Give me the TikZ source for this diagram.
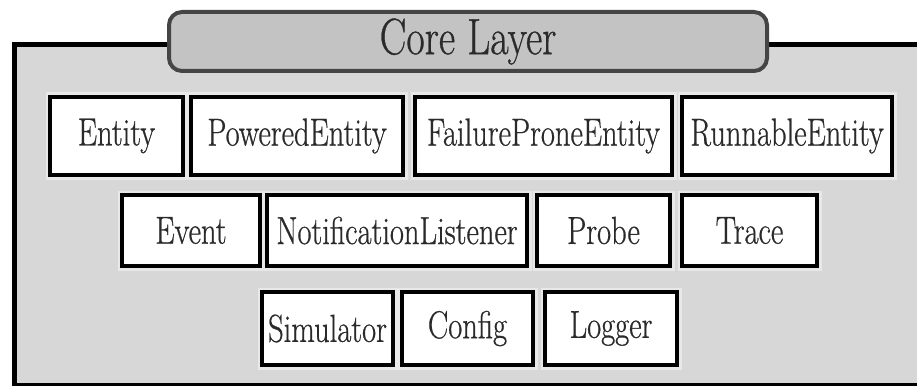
\documentclass[tikz,border=0pt]{standalone}
\usepackage{fontspec}
\newfontfamily\labelfont{Latin Modern Roman}[FakeBold=0.7]
\begin{document}
\begin{tikzpicture}[x=1pt,y=-1pt,
  panelline/.style={line width=5pt,draw=black},
  cbox/.style={rectangle,inner sep=0pt,fill=white,draw=black,line width=4.5pt,
    preaction={draw=boxhalo,line width=9pt},
    font=\labelfont\fontsize{30.5}{33}\selectfont,text=labelgray},
  titlebox/.style={rectangle,rounded corners=13pt,inner sep=0pt,fill=titlefill,
    draw=titleline,line width=4pt,font=\labelfont\fontsize{40}{43}\selectfont,text=labelgray}
]
\definecolor{panelfill}{HTML}{D7D7D7}
\definecolor{titlefill}{HTML}{C3C3C3}
\definecolor{titleline}{HTML}{454545}
\definecolor{boxhalo}{HTML}{E8E8E8}
\definecolor{labelgray}{HTML}{2A2A2A}
\newcommand{\tall}[1]{\scalebox{1}[1.28]{#1}}

\useasboundingbox (0,0) rectangle (917,385);
\clip (0,0) rectangle (917,385);
\fill[white] (0,0) rectangle (917,385);

% layer panel
\fill[panelfill] (14,45) rectangle (940,386);
\draw[panelline] (940,45) -- (14,45) -- (14,385.5) -- (940,385.5);

% layer title
\node[titlebox,minimum width=598pt,minimum height=59pt] (title) at (468,41.5) {\tall{Core Layer}};

% first row
\node[cbox,minimum width=133pt,minimum height=78pt] (entity)   at (116.5,136) {\tall{Entity}};
\node[cbox,minimum width=212pt,minimum height=78pt] (powered)  at (297,136)   {\tall{PoweredEntity}};
\node[cbox,minimum width=257pt,minimum height=78pt] (failure)  at (543.5,136) {\tall{FailureProneEntity}};
\node[cbox,minimum width=210pt,minimum height=78pt] (runnable) at (787,136)   {\tall{RunnableEntity}};

% second row
\node[cbox,minimum width=138pt,minimum height=71pt] (event)    at (191,230.5)   {\tall{Event}};
\node[cbox,minimum width=260pt,minimum height=71pt] (listener) at (397,230.5)   {\tall{NotificationListener}};
\node[cbox,minimum width=133pt,minimum height=71pt] (probe)    at (603.5,230.5) {\tall{Probe}};
\node[cbox,minimum width=135pt,minimum height=71pt] (trace)    at (749.5,230.5) {\tall{Trace}};

% third row
\node[cbox,minimum width=131pt,minimum height=73pt] (simulator) at (327.5,328.5) {\tall{Simulator}};
\node[cbox,minimum width=131pt,minimum height=73pt] (config)    at (467.5,328.5) {\tall{Config}};
\node[cbox,minimum width=132pt,minimum height=73pt] (logger)    at (611,328.5)   {\tall{Logger}};
\end{tikzpicture}
\end{document}
